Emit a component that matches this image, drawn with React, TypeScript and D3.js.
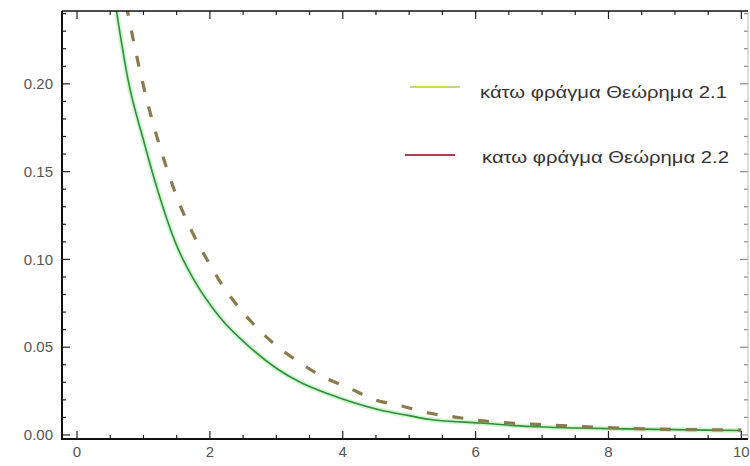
import * as d3 from "d3";

const width = 750;
const height = 466;

// lower bound, Theorem 2.1 (solid green)
const boundA: [number, number][] = [
  [0.58, 0.245], [0.77, 0.202], [1.0, 0.168], [1.17, 0.145], [1.51, 0.107],
  [1.75, 0.089], [2.15, 0.067], [2.6, 0.05], [3.0, 0.038], [3.36, 0.03],
  [3.81, 0.023], [4.11, 0.019], [4.56, 0.0142], [5.0, 0.011], [5.32, 0.0088],
  [6.07, 0.0068], [6.82, 0.0048], [7.5, 0.004], [8.5, 0.0033], [10, 0.0025],
];

// lower bound, Theorem 2.2 (dashed)
const boundB: [number, number][] = [
  [0.74, 0.245], [0.98, 0.202], [1.45, 0.141], [2.0, 0.097], [2.71, 0.061],
  [3.03, 0.05], [3.36, 0.041], [3.71, 0.033], [4.08, 0.027], [4.49, 0.02],
  [4.89, 0.0165], [5.29, 0.0125], [5.69, 0.0102], [6.11, 0.008], [6.52, 0.0068],
  [6.94, 0.006], [7.77, 0.0045], [8.63, 0.0034], [9.83, 0.0028], [10, 0.0027],
];

const xTicks = [0, 2, 4, 6, 8, 10];
const yTicks = [0, 0.05, 0.1, 0.15, 0.2];
const yTickLabels = ["0.00", "0.05", "0.10", "0.15", "0.20"];
const legendLabels = ["κάτω φράγμα Θεώρημα 2.1", "κατω φράγμα Θεώρημα 2.2"];

const x = d3.scaleLinear().domain([-0.226, 10.1]).range([62, 748]);
const y = d3.scaleLinear().domain([-0.0023, 0.2415]).range([439, 11]);

const line = d3
  .line<[number, number]>()
  .x((d) => x(d[0]))
  .y((d) => y(d[1]))
  .curve(d3.curveMonotoneX);

const xMinor = d3.range(0, 10.01, 0.5);
const yMinor = d3.range(0, 0.2401, 0.01);

export default function App() {
  const [x0, x1] = x.range();
  const [y0, y1] = y.range();
  const font = "'Liberation Sans', Arial, sans-serif";
  return (
    <svg
      width={width}
      height={height}
      style={{ position: "absolute", left: 0, top: 0, background: "#fff" }}
    >
      <defs>
        <clipPath id="plot">
          <rect x={x0} y={y1} width={x1 - x0} height={y0 - y1} />
        </clipPath>
      </defs>

      <g clipPath="url(#plot)" fill="none">
        <path d={line(boundA)!} stroke="#9be89b" strokeWidth={5} opacity={0.45} />
        <path d={line(boundA)!} stroke="#2f8f3a" strokeWidth={1.6} />
        <path
          d={line(boundB)!}
          stroke="#8a7a4c"
          strokeWidth={3.2}
          strokeDasharray="11,15"
        />
      </g>

      {/* frame ticks */}
      <g stroke="#222" strokeWidth={1.2}>
        {xMinor.map((v) => {
          const major = Math.abs(v % 2) < 1e-6;
          const len = major ? 8 : 4;
          return (
            <g key={"x" + v}>
              <line x1={x(v)} x2={x(v)} y1={y0} y2={y0 - len} />
              <line x1={x(v)} x2={x(v)} y1={y1} y2={y1 + len} />
            </g>
          );
        })}
        {yMinor.map((v, i) => {
          const major = i % 5 === 0;
          const len = major ? 8 : 4;
          return (
            <g key={"y" + i}>
              <line x1={x0} x2={x0 + len} y1={y(v)} y2={y(v)} />
              <line x1={x1} x2={x1 - len} y1={y(v)} y2={y(v)} stroke="#888" />
            </g>
          );
        })}
      </g>

      {/* frame */}
      <line x1={x1} x2={x1} y1={y1} y2={y0} stroke="#bbb" strokeWidth={1} />
      <line x1={x0} x2={x1} y1={y1} y2={y1} stroke="#111" strokeWidth={1.6} />
      <line x1={x0} x2={x0} y1={y1} y2={y0 + 1} stroke="#111" strokeWidth={2} />
      <line x1={x0} x2={x1} y1={y0} y2={y0} stroke="#111" strokeWidth={2} />

      {/* tick labels */}
      <g fill="#555" fontFamily={font} fontSize={15}>
        {yTicks.map((v, i) => (
          <text key={v} x={x0 - 9} y={y(v)} dy="0.35em" textAnchor="end">
            {yTickLabels[i]}
          </text>
        ))}
        {xTicks.map((v) => (
          <text key={v} x={x(v)} y={y0 + 18} textAnchor="middle">
            {v}
          </text>
        ))}
      </g>

      {/* legend */}
      <g fontFamily={font} fontSize={17} fill="#333">
        <line x1={410} x2={460} y1={87} y2={87} stroke="#c9d86a" strokeWidth={2} />
        <text x={480} y={92} dy="0.35em" textLength={247} lengthAdjust="spacingAndGlyphs">
          {legendLabels[0]}
        </text>
        <line x1={405} x2={455} y1={155} y2={155} stroke="#a8404e" strokeWidth={2} />
        <text x={482} y={157} dy="0.35em" textLength={247} lengthAdjust="spacingAndGlyphs">
          {legendLabels[1]}
        </text>
      </g>
    </svg>
  );
}
